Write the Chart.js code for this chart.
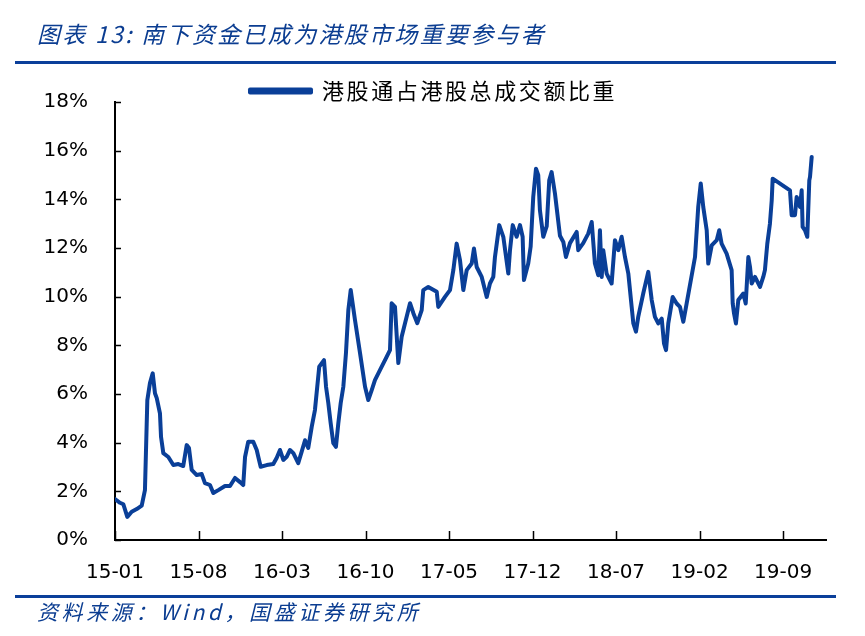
<!DOCTYPE html>
<html>
<head>
<meta charset="utf-8">
<script src="https://cdn.jsdelivr.net/npm/chart.js@4.4.0/dist/chart.umd.min.js"></script>
<style>
    html, body { margin: 0; padding: 0; background: #fff; }
    #wrap { position: relative; width: 865px; height: 636px; overflow: hidden; }
    #chart { position: absolute; left: 0; top: 0; }
    .caption { position: absolute; left: 37px; color: #0b3d91; font-family: "Noto Sans CJK SC", sans-serif; font-style: italic; white-space: nowrap; }
    #title { top: 16px; font-size: 23px; letter-spacing: 2.3px; }
    #source { top: 596px; font-size: 21px; letter-spacing: 3.6px; }
    .rule { position: absolute; left: 15px; width: 821px; height: 3px; background: #0b3f9a; }
</style>
</head>
<body>
<div id="wrap">
    <canvas id="chart" width="865" height="636"></canvas>
    <div id="title" class="caption">图表 13: 南下资金已成为港股市场重要参与者</div>
    <div class="rule" style="top:61px"></div>
    <div class="rule" style="top:595px"></div>
    <div id="source" class="caption">资料来源：Wind，国盛证券研究所</div>
</div>
<script>
// 月份序号（0 = 2015-01）
const monthIdx = [
    0, 0.42, 0.70, 1.03, 1.40, 1.82, 2.24, 2.51, 2.71, 2.93, 3.16, 3.35, 3.50, 3.77, 3.86, 4.05,
    4.47, 4.89, 5.31, 5.72, 6.01, 6.20, 6.43, 6.85, 7.27, 7.54, 7.96, 8.24, 8.66, 9.22, 9.64,
    10.06, 10.48, 10.75, 10.90, 11.17, 11.59, 11.88, 12.01, 12.21, 12.72, 13.27, 13.55, 13.83,
    14.11, 14.39, 14.67, 14.95, 15.36, 15.65, 15.93, 16.20, 16.49, 16.76, 17.12, 17.52, 17.69,
    17.88, 18.08, 18.30, 18.52, 18.72, 18.92, 19.14, 19.36, 19.56, 19.76, 20.12, 20.54, 20.96,
    21.23, 21.52, 21.79, 22.21, 22.77, 23.05, 23.19, 23.47, 23.75, 24.03, 24.73, 25.01, 25.34,
    25.71, 25.84, 26.26, 26.97, 27.10, 27.66, 28.08, 28.36, 28.64, 28.92, 29.20, 29.48, 29.90,
    30.09, 30.32, 30.74, 31.16, 31.43, 31.71, 31.85, 32.21, 32.55, 32.97, 33.11, 33.34, 33.67,
    33.95, 34.17, 34.28, 34.64, 34.84, 35.06, 35.29, 35.48, 35.62, 35.90, 36.19, 36.40, 36.60,
    36.88, 37.30, 37.58, 37.80, 38.14, 38.70, 38.83, 39.25, 39.67, 39.96, 40.23, 40.51, 40.65,
    40.80, 40.93, 41.21, 41.63, 41.91, 42.19, 42.47, 42.75, 43.03, 43.31, 43.45, 43.67, 43.86,
    44.28, 44.70, 44.99, 45.26, 45.54, 45.83, 46.02, 46.19, 46.38, 46.75, 47.08, 47.36, 47.64,
    47.92, 48.62, 48.89, 49.10, 49.31, 49.60, 49.73, 50.02, 50.44, 50.65, 50.85, 51.27, 51.69,
    51.78, 51.89, 52.05, 52.25, 52.67, 52.87, 53.09, 53.23, 53.37, 53.65, 54.07, 54.34, 54.48,
    54.68, 54.90, 55.05, 55.13, 56.58, 56.72, 57.00, 57.14, 57.42, 57.56, 57.64, 57.84, 58.03,
    58.20, 58.26, 58.40
];
// 港股通占港股总成交额比重（%）
const shareValues = [
    1.68, 1.53, 1.47, 0.95, 1.16, 1.27, 1.41, 2.05, 5.75, 6.45, 6.85, 6.03, 5.83, 5.20, 4.23, 3.57,
    3.41, 3.08, 3.12, 3.04, 3.90, 3.78, 2.88, 2.67, 2.71, 2.34, 2.26, 1.93, 2.05, 2.22, 2.22,
    2.55, 2.38, 2.26, 3.41, 4.04, 4.04, 3.70, 3.42, 3.01, 3.08, 3.12, 3.37, 3.70,
    3.29, 3.42, 3.70, 3.57, 3.16, 3.63, 4.10, 3.78, 4.65, 5.34, 7.12, 7.39, 6.30,
    5.63, 4.80, 3.98, 3.83, 4.80, 5.63, 6.30, 7.68, 9.45, 10.27, 9.03, 7.68, 6.30,
    5.75, 6.16, 6.57, 6.98, 7.53, 7.80, 9.73, 9.58, 7.27, 8.35, 9.73, 9.32, 8.91,
    9.45, 10.27, 10.40, 10.20, 9.58, 9.99, 10.27, 11.09, 12.18, 11.50, 10.27, 11.09, 11.36,
    11.98, 11.22, 10.81, 9.99, 10.54, 10.81, 11.63, 12.94, 12.46, 10.95, 11.91, 12.94, 12.46,
    12.94, 12.46, 10.68, 11.36, 12.05, 14.10, 15.26, 14.99, 13.55, 12.46, 12.90, 14.78, 15.12,
    14.24, 12.50, 12.25, 11.63, 12.20, 12.66, 11.91, 12.20, 12.59, 13.07, 11.36, 10.88, 12.73,
    10.81, 11.91, 10.95, 10.54, 12.32, 11.91, 12.46, 11.63, 10.95, 9.58, 8.90, 8.56, 9.17,
    10.13, 11.02, 9.86, 9.17, 8.90, 9.10, 8.08, 7.80, 8.90, 9.99, 9.72, 9.58, 8.97,
    9.72, 11.63, 13.69, 14.65, 13.69, 12.73, 11.36, 12.11, 12.32, 12.73, 12.18, 11.77, 11.09,
    9.72, 9.31, 8.90, 9.86, 10.13, 9.72, 11.63, 11.22, 10.54, 10.81, 10.40, 10.81, 11.09,
    12.18, 13.00, 13.96, 14.85, 14.37, 13.35, 13.35, 14.10, 13.69, 14.37, 12.87, 12.73, 12.46,
    14.78, 14.92, 15.74
];
const tickLabels = ['15-01', '15-08', '16-03', '16-10', '17-05', '17-12', '18-07', '19-02', '19-09'];
const monthStep = 7;

const blue = '#0a3f98';
const axisFont = { family: '"DejaVu Sans", Verdana, sans-serif', size: 20 };

// 朝内的刻度线
const innerTicks = {
    id: 'innerTicks',
    afterDraw(chart) {
        const { ctx, chartArea, scales } = chart;
        ctx.save();
        ctx.strokeStyle = '#000';
        ctx.lineWidth = 1.5;
        ctx.beginPath();
        scales.y.ticks.forEach(t => {
            const y = Math.round(scales.y.getPixelForValue(t.value)) + 0.5;
            ctx.moveTo(chartArea.left, y);
            ctx.lineTo(chartArea.left + 6, y);
        });
        scales.x.ticks.forEach(t => {
            const x = Math.round(scales.x.getPixelForValue(t.value)) + 0.5;
            ctx.moveTo(x, chartArea.bottom);
            ctx.lineTo(x, chartArea.bottom - 9);
        });
        ctx.stroke();
        ctx.restore();
    }
};

// 图例文字加一点字距，并略往下放
const legendSpacing = {
    id: 'legendSpacing',
    afterInit(chart) {
        const legend = chart.legend;
        const draw = legend.draw.bind(legend);
        legend.draw = function() {
            chart.ctx.save();
            chart.ctx.translate(0, 10);
            chart.ctx.letterSpacing = '2.6px';
            draw();
            chart.ctx.restore();
        };
    }
};

const ctx = document.getElementById('chart').getContext('2d');
new Chart(ctx, {
    type: 'line',
    data: {
        datasets: [{
            label: '港股通占港股总成交额比重',
            data: monthIdx.map((m, i) => ({ x: m, y: shareValues[i] })),
            borderColor: blue,
            backgroundColor: blue,
            borderWidth: 4,
            pointRadius: 0,
            tension: 0,
            borderJoinStyle: 'round',
            borderCapStyle: 'round'
        }]
    },
    options: {
        responsive: false,
        animation: false,
        devicePixelRatio: 1,
        layout: { padding: { left: 10, right: 39, top: 70, bottom: 40 } },
        plugins: {
            legend: {
                display: true,
                position: 'top',
                labels: {
                    color: '#000',
                    boxWidth: 61,
                    boxHeight: 3,
                    padding: 0,
                    font: { family: '"Noto Sans CJK SC", sans-serif', size: 22, lineHeight: 1 }
                }
            },
            tooltip: { enabled: false }
        },
        scales: {
            x: {
                type: 'linear',
                min: 0,
                max: 59.6,
                afterBuildTicks: s => { s.ticks = tickLabels.map((_, i) => ({ value: i * monthStep })); },
                afterFit: s => { s.height = 56; },
                grid: { display: true, drawOnChartArea: false, drawTicks: false },
                border: { display: true, color: '#000', width: 2 },
                ticks: {
                    autoSkip: false,
                    maxRotation: 0,
                    padding: 21,
                    color: '#000',
                    font: axisFont,
                    callback: v => tickLabels[Math.round(v / monthStep)] || ''
                }
            },
            y: {
                min: 0,
                max: 18,
                afterFit: s => { s.width = 105; },
                grid: { display: true, drawOnChartArea: false, drawTicks: false },
                border: { display: true, color: '#000', width: 2 },
                ticks: {
                    stepSize: 2,
                    padding: 27,
                    color: '#000',
                    font: axisFont,
                    callback: v => v + '%'
                }
            }
        }
    },
    plugins: [innerTicks, legendSpacing]
});
</script>
</body>
</html>
